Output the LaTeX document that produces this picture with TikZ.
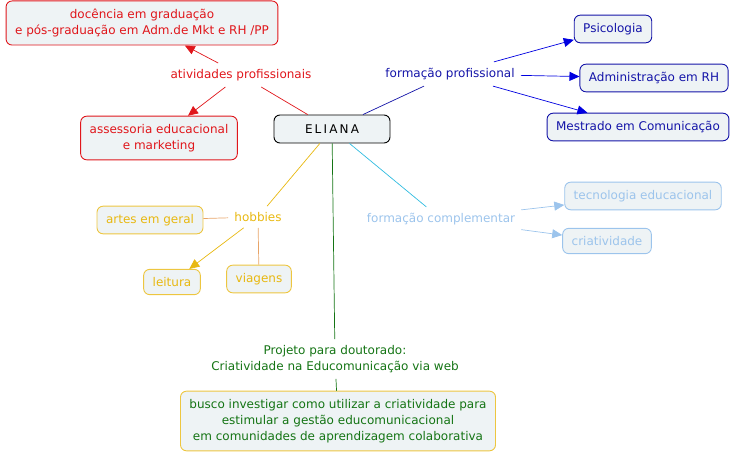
\documentclass[tikz,border=0pt]{standalone}
\usepackage{fontspec}
\setmainfont{DejaVu Sans}
\usetikzlibrary{arrows.meta, positioning}
\definecolor{mred}{HTML}{E0161B}
\definecolor{mblue}{HTML}{1414A8}
\definecolor{marrblue}{HTML}{0000E0}
\definecolor{mgold}{HTML}{E8B810}
\definecolor{morange}{HTML}{E8A468}
\definecolor{msky}{HTML}{9CC4EC}
\definecolor{mcyan}{HTML}{30BCE0}
\definecolor{mgreen}{HTML}{147414}
\definecolor{mfill}{HTML}{EEF3F5}
\tikzset{
  cbox/.style={fill=mfill, rounded corners=6pt, align=center,
               inner xsep=9pt, inner ysep=8pt, line width=0.9pt},
  rbox/.style={cbox, draw=mred, text=mred},
  bbox/.style={cbox, draw=mblue, text=mblue},
  ybox/.style={cbox, draw=mgold!80, text=mgold},
  sbox/.style={cbox, draw=msky, text=msky},
  gbox/.style={cbox, draw=mgold!80, text=mgreen},
  mainbox/.style={cbox, draw=black, text=black, minimum width=116pt, minimum height=28pt},
  lab/.style={inner sep=6pt, align=center},
  rarr/.style={-{Triangle[length=10pt,width=9pt]}, mred, line width=0.7pt},
  barr/.style={-{Triangle[length=10pt,width=9pt]}, marrblue, line width=0.7pt},
  yarr/.style={-{Triangle[length=10pt,width=9pt]}, mgold, line width=0.7pt},
  sarr/.style={-{Triangle[length=10pt,width=9pt]}, msky, line width=0.7pt},
}

\begin{document}
\begin{tikzpicture}[x=1pt, y=-1pt, every node/.style={font=\fontsize{12}{16}\selectfont}]
    \useasboundingbox (0,0) rectangle (733,454);
    \node[mainbox] (eliana) at (332,129) {\addfontfeature{LetterSpace=18}ELIANA};

    \node[rbox] (docencia) at (142,23) {docência em graduação\\e pós-graduação em Adm.de Mkt e RH /PP};
    \node[lab, text=mred] (ativ) at (241,75) {atividades profissionais};
    \node[rbox] (assess) at (159,138) {assessoria educacional\\e marketing};

    \node[lab, text=mblue] (formprof) at (450,74) {formação profissional};
    \node[bbox] (psico) at (613,29) {Psicologia};
    \node[bbox] (admrh) at (654,78) {Administração em RH};
    \node[bbox] (mestr) at (638,127) {Mestrado em Comunicação};

    \node[lab, text=mgold] (hobbies) at (258,217) {hobbies};
    \node[ybox] (artes) at (150,220) {artes em geral};
    \node[ybox] (leitura) at (172,282) {leitura};
    \node[ybox] (viagens) at (259,279) {viagens};

    \node[lab, text=msky] (formcomp) at (441,219) {formação complementar};
    \node[sbox] (tecno) at (643,196) {tecnologia educacional};
    \node[sbox] (criat) at (607,241) {criatividade};

    \node[lab, text=mgreen] (projeto) at (335,359) {Projeto para doutorado:\\Criatividade na Educomunicação via web};
    \node[gbox] (busco) at (338,421) {busco investigar como utilizar a criatividade para\\estimular a gestão educomunicacional\\em comunidades de aprendizagem colaborativa};

    \draw[mred, line width=0.7pt] (eliana) -- (ativ);
    \draw[rarr] (ativ) -- (docencia);
    \draw[rarr] (ativ) -- (assess);

    \draw[mblue, line width=0.7pt] (eliana) -- (formprof);
    \draw[barr] (formprof) -- (psico);
    \draw[barr] (formprof) -- (admrh);
    \draw[barr] (formprof) -- (mestr);

    \draw[mgold, line width=0.7pt] (eliana) -- (hobbies);
    \draw[morange, line width=0.7pt] (hobbies) -- (artes);
    \draw[yarr] (hobbies) -- (leitura);
    \draw[morange, line width=0.7pt] (hobbies) -- (viagens);

    \draw[mcyan, line width=0.7pt] (eliana) -- (formcomp);
    \draw[sarr] (formcomp) -- (tecno);
    \draw[sarr] (formcomp) -- (criat);

    \draw[mgreen, line width=0.7pt] (eliana) -- (projeto);
    \draw[mgreen, line width=0.7pt] (projeto) -- (busco);
\end{tikzpicture}
\end{document}
